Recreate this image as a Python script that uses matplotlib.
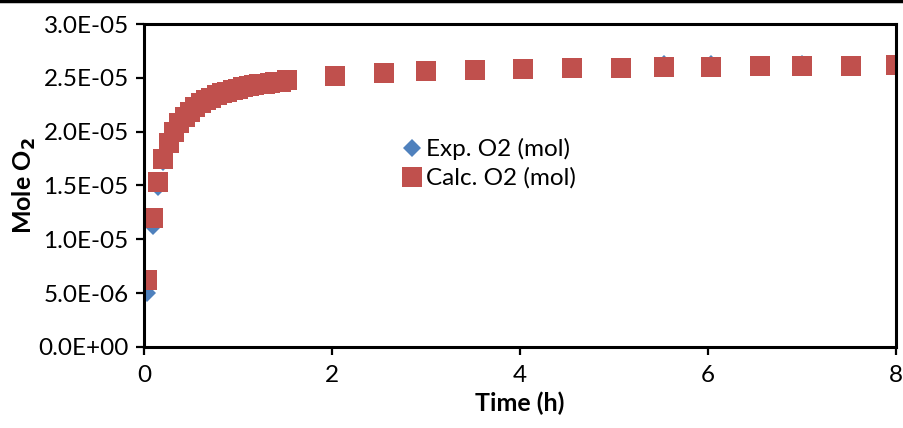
import matplotlib
matplotlib.use("Agg")
import matplotlib.pyplot as plt
from matplotlib.lines import Line2D
from matplotlib.ticker import FuncFormatter

plt.rcParams["font.family"] = ["Lato", "DejaVu Sans"]

# time (h) -- dense early sampling, then roughly every half hour
time_h = [0.035, 0.092, 0.149, 0.205, 0.262, 0.319, 0.375, 0.432, 0.489,
          0.545, 0.602, 0.659, 0.715, 0.772, 0.829, 0.885, 0.942, 0.999,
          1.055, 1.112, 1.169, 1.225, 1.282, 1.339, 1.395, 1.452, 1.516,
          2.03, 2.55, 3.00, 3.52, 4.03, 4.55, 5.07, 5.53, 6.03, 6.55,
          7.00, 7.52, 8.00]

calc_o2 = [0.62e-5, 1.20e-5, 1.535e-5, 1.746e-5, 1.891e-5, 1.993e-5,
           2.077e-5, 2.139e-5, 2.185e-5, 2.225e-5, 2.263e-5, 2.290e-5,
           2.315e-5, 2.337e-5, 2.355e-5, 2.371e-5, 2.386e-5, 2.398e-5,
           2.411e-5, 2.420e-5, 2.430e-5, 2.439e-5, 2.445e-5, 2.451e-5,
           2.457e-5, 2.465e-5, 2.48e-5,
           2.521e-5, 2.544e-5, 2.561e-5, 2.574e-5, 2.581e-5, 2.587e-5,
           2.593e-5, 2.600e-5, 2.602e-5, 2.606e-5, 2.609e-5, 2.612e-5,
           2.617e-5]

exp_o2 = [0.50e-5, 1.12e-5, 1.49e-5, 1.72e-5, 1.88e-5, 1.99e-5,
          2.07e-5, 2.135e-5, 2.18e-5, 2.22e-5, 2.26e-5, 2.29e-5,
          2.31e-5, 2.335e-5, 2.355e-5, 2.37e-5, 2.385e-5, 2.40e-5,
          2.41e-5, 2.42e-5, 2.43e-5, 2.44e-5, 2.445e-5, 2.45e-5,
          2.457e-5, 2.465e-5, 2.48e-5,
          2.51e-5, 2.54e-5, 2.56e-5, 2.575e-5, 2.585e-5, 2.59e-5,
          2.60e-5, 2.625e-5, 2.625e-5, 2.61e-5, 2.63e-5, 2.615e-5,
          2.62e-5]

BLUE = "#4F81BD"
RED = "#C0504D"

fig = plt.figure(figsize=(9.04, 4.28), dpi=100)
ax = fig.add_axes([0.1593, 0.1893, 0.8319, 0.7546])

ax.plot(time_h, exp_o2, linestyle="none", marker="D", markersize=9.5,
        color=BLUE, markeredgewidth=0, label="Exp. O2 (mol)")
ax.plot(time_h, calc_o2, linestyle="none", marker="s", markersize=14.4,
        color=RED, markeredgewidth=0, label="Calc. O2 (mol)")

ax.set_xlim(0, 8)
ax.set_ylim(0, 3.0e-5)
ax.set_xticks([0, 2, 4, 6, 8])
ax.set_yticks([i * 0.5e-5 for i in range(7)])
ax.yaxis.set_major_formatter(FuncFormatter(lambda v, _: f"{v:.1E}"))

for s in ax.spines.values():
    s.set_linewidth(2.2)
ax.tick_params(axis="both", direction="out", length=6, width=1.6,
               labelsize=17.5, colors="black")
ax.tick_params(axis="x", pad=7)
ax.tick_params(axis="y", pad=5)

ax.set_xlabel("Time (h)", fontsize=18, fontweight="bold", labelpad=4)
ax.set_ylabel("Mole O$_\\mathbf{2}$", fontsize=18, fontweight="bold",
              labelpad=0)

ax.legend(loc="upper left", bbox_to_anchor=(0.432, 0.70),
          bbox_transform=fig.transFigure, frameon=False, fontsize=17.5,
          handletextpad=0.05, handlelength=1.0, borderaxespad=0,
          labelspacing=0.3)

# thin border line along the top of the image
fig.add_artist(Line2D([0, 1], [0.997, 0.997], color="black", lw=2.5,
                      transform=fig.transFigure))

fig.savefig("out.png", dpi=100)
